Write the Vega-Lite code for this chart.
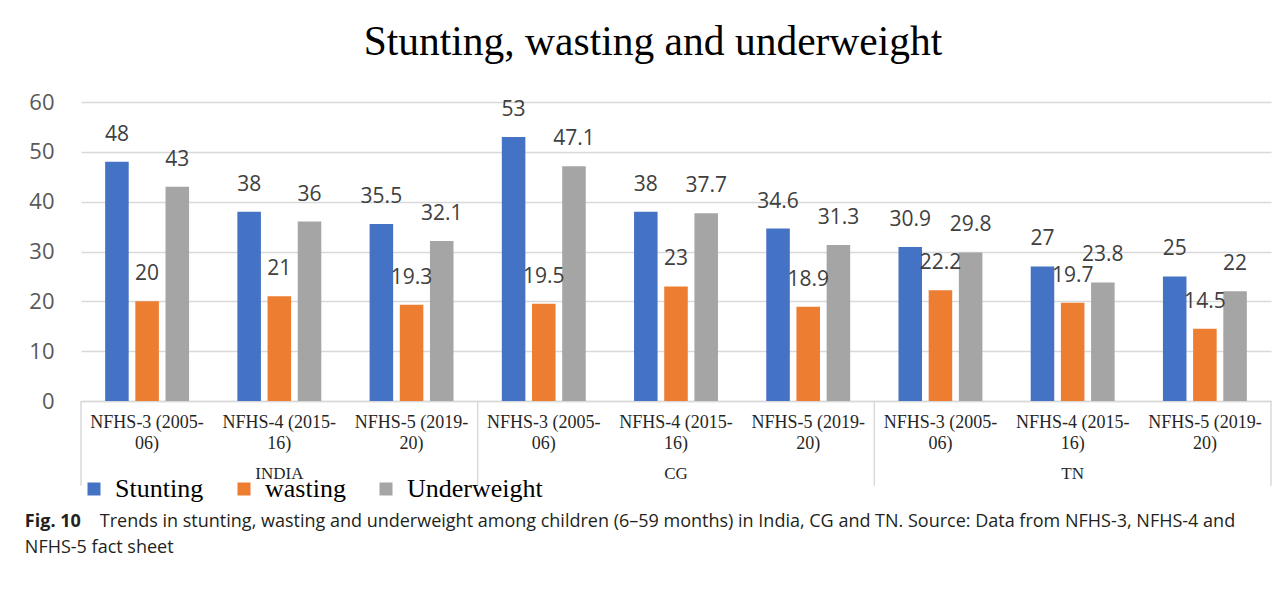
{
  "$schema": "https://vega.github.io/schema/vega-lite/v6.json",
  "background": "white",
  "padding": {"left": 24, "top": 21, "right": 10, "bottom": 5},
  "config": {"view": {"stroke": null}},
  "title": {
    "text": "Fig. 10",
    "subtitle": "NFHS-5 fact sheet",
    "orient": "bottom",
    "anchor": "start",
    "dx": -4,
    "font": "Open Sans",
    "fontSize": 18,
    "fontWeight": "bold",
    "color": "#231f20",
    "subtitleFont": "Open Sans",
    "subtitleFontSize": 18,
    "subtitleColor": "#231f20",
    "subtitlePadding": 8,
    "offset": -18
  },
  "resolve": {"scale": {"color": "independent"}, "legend": {"color": "independent"}},
  "vconcat": [
    {
      "title": {
        "text": "Trends in stunting, wasting and underweight among children (6–59 months) in India, CG and TN. Source: Data from NFHS-3, NFHS-4 and",
        "orient": "bottom",
        "anchor": "start",
        "dx": 71,
        "font": "Open Sans",
        "fontSize": 18,
        "fontWeight": "normal",
        "color": "#231f20",
        "offset": 11
      },
      "resolve": {"scale": {"color": "independent"}, "legend": {"color": "independent"}},
      "vconcat": [
        {
          "title": {
            "text": "Stunting, wasting and underweight",
            "font": "Liberation Serif",
            "fontSize": 41.5,
            "fontWeight": "normal",
            "color": "#000000",
            "anchor": "middle",
            "dx": -23,
            "offset": 28
          },
          "width": 1190,
          "height": 299,
          "data": {
            "values": [
              {"region": "INDIA", "key": "INDIA|NFHS-3 (2005-06)", "indicator": "Stunting", "value": 48},
              {"region": "INDIA", "key": "INDIA|NFHS-3 (2005-06)", "indicator": "wasting", "value": 20},
              {"region": "INDIA", "key": "INDIA|NFHS-3 (2005-06)", "indicator": "Underweight", "value": 43},
              {"region": "INDIA", "key": "INDIA|NFHS-4 (2015-16)", "indicator": "Stunting", "value": 38},
              {"region": "INDIA", "key": "INDIA|NFHS-4 (2015-16)", "indicator": "wasting", "value": 21},
              {"region": "INDIA", "key": "INDIA|NFHS-4 (2015-16)", "indicator": "Underweight", "value": 36},
              {"region": "INDIA", "key": "INDIA|NFHS-5 (2019-20)", "indicator": "Stunting", "value": 35.5},
              {"region": "INDIA", "key": "INDIA|NFHS-5 (2019-20)", "indicator": "wasting", "value": 19.3},
              {"region": "INDIA", "key": "INDIA|NFHS-5 (2019-20)", "indicator": "Underweight", "value": 32.1},
              {"region": "CG", "key": "CG|NFHS-3 (2005-06)", "indicator": "Stunting", "value": 53},
              {"region": "CG", "key": "CG|NFHS-3 (2005-06)", "indicator": "wasting", "value": 19.5},
              {"region": "CG", "key": "CG|NFHS-3 (2005-06)", "indicator": "Underweight", "value": 47.1},
              {"region": "CG", "key": "CG|NFHS-4 (2015-16)", "indicator": "Stunting", "value": 38},
              {"region": "CG", "key": "CG|NFHS-4 (2015-16)", "indicator": "wasting", "value": 23},
              {"region": "CG", "key": "CG|NFHS-4 (2015-16)", "indicator": "Underweight", "value": 37.7},
              {"region": "CG", "key": "CG|NFHS-5 (2019-20)", "indicator": "Stunting", "value": 34.6},
              {"region": "CG", "key": "CG|NFHS-5 (2019-20)", "indicator": "wasting", "value": 18.9},
              {"region": "CG", "key": "CG|NFHS-5 (2019-20)", "indicator": "Underweight", "value": 31.3},
              {"region": "TN", "key": "TN|NFHS-3 (2005-06)", "indicator": "Stunting", "value": 30.9},
              {"region": "TN", "key": "TN|NFHS-3 (2005-06)", "indicator": "wasting", "value": 22.2},
              {"region": "TN", "key": "TN|NFHS-3 (2005-06)", "indicator": "Underweight", "value": 29.8},
              {"region": "TN", "key": "TN|NFHS-4 (2015-16)", "indicator": "Stunting", "value": 27},
              {"region": "TN", "key": "TN|NFHS-4 (2015-16)", "indicator": "wasting", "value": 19.7},
              {"region": "TN", "key": "TN|NFHS-4 (2015-16)", "indicator": "Underweight", "value": 23.8},
              {"region": "TN", "key": "TN|NFHS-5 (2019-20)", "indicator": "Stunting", "value": 25},
              {"region": "TN", "key": "TN|NFHS-5 (2019-20)", "indicator": "wasting", "value": 14.5},
              {"region": "TN", "key": "TN|NFHS-5 (2019-20)", "indicator": "Underweight", "value": 22}
            ]
          },
          "encoding": {
            "x": {
              "field": "key",
              "type": "nominal",
              "sort": null,
              "scale": {"paddingInner": 0, "paddingOuter": 0},
              "axis": {
                "title": null,
                "orient": "bottom",
                "labelExpr": "[slice(datum.value, indexof(datum.value, '|') + 1, lastindexof(datum.value, '-') + 1), slice(datum.value, lastindexof(datum.value, '-') + 1)]",
                "labelAngle": 0,
                "labelFont": "Liberation Serif",
                "labelFontSize": 18,
                "labelColor": "#262626",
                "labelLineHeight": 21,
                "labelBaseline": "top",
                "labelPadding": 12,
                "labelOverlap": false,
                "ticks": false,
                "domainColor": "#d9d9d9",
                "domainWidth": 1.5,
                "grid": false
              }
            },
            "y": {
              "field": "value",
              "type": "quantitative",
              "scale": {"domain": [0, 60]},
              "axis": {
                "title": null,
                "values": [0, 10, 20, 30, 40, 50, 60],
                "grid": true,
                "gridColor": "#d9d9d9",
                "gridWidth": 1.3,
                "domain": false,
                "ticks": false,
                "labelFont": "Open Sans",
                "labelFontSize": 22,
                "labelColor": "#595959",
                "labelPadding": 27
              }
            }
          },
          "layer": [
            {
              "mark": {"type": "bar"},
              "encoding": {
                "xOffset": {
                  "field": "indicator",
                  "type": "nominal",
                  "scale": {"domain": ["Stunting", "wasting", "Underweight"], "paddingInner": 0.22, "paddingOuter": 0.8}
                },
                "color": {
                  "field": "indicator",
                  "type": "nominal",
                  "scale": {"domain": ["Stunting", "wasting", "Underweight"], "range": ["#4472C4", "#ED7D31", "#A5A5A5"]},
                  "legend": {
                    "orient": "bottom",
                    "direction": "horizontal",
                    "title": null,
                    "symbolType": "square",
                    "symbolSize": 169,
                    "symbolStrokeWidth": 0,
                    "labelFont": "Liberation Serif",
                    "labelFontSize": 26,
                    "labelColor": "#000000",
                    "labelOffset": 8,
                    "columnPadding": 27,
                    "offset": 24
                  }
                }
              }
            },
            {
              "mark": {"type": "text", "font": "Open Sans", "fontSize": 21, "color": "#404040", "baseline": "alphabetic", "dy": -21},
              "encoding": {
                "xOffset": {
                  "field": "indicator",
                  "type": "nominal",
                  "scale": {"domain": ["Stunting", "wasting", "Underweight"], "paddingInner": 0.22, "paddingOuter": 0.8}
                },
                "text": {"field": "value", "type": "nominal"}
              }
            },
            {
              "transform": [{"filter": "datum.key == 'INDIA|NFHS-3 (2005-06)' && datum.indicator == 'Stunting'"}],
              "mark": {"type": "rule", "color": "#d9d9d9", "strokeWidth": 1.5},
              "encoding": {
                "x": {"field": "key", "type": "nominal", "sort": null, "bandPosition": 0},
                "y": {"datum": 0, "title": null},
                "y2": {"datum": -17}
              }
            },
            {
              "transform": [{"filter": "indexof(datum.key, 'NFHS-5') >= 0 && datum.indicator == 'Stunting'"}],
              "mark": {"type": "rule", "color": "#d9d9d9", "strokeWidth": 1.5},
              "encoding": {
                "x": {"field": "key", "type": "nominal", "sort": null, "bandPosition": 1},
                "y": {"datum": 0, "title": null},
                "y2": {"datum": -17}
              }
            },
            {
              "transform": [{"filter": "indexof(datum.key, 'NFHS-4') >= 0 && datum.indicator == 'wasting'"}],
              "mark": {"type": "text", "font": "Liberation Serif", "fontSize": 17, "color": "#262626", "baseline": "middle"},
              "encoding": {
                "y": {"datum": -14.65, "title": null},
                "text": {"field": "region", "type": "nominal"}
              }
            }
          ]
        }
      ]
    }
  ]
}
